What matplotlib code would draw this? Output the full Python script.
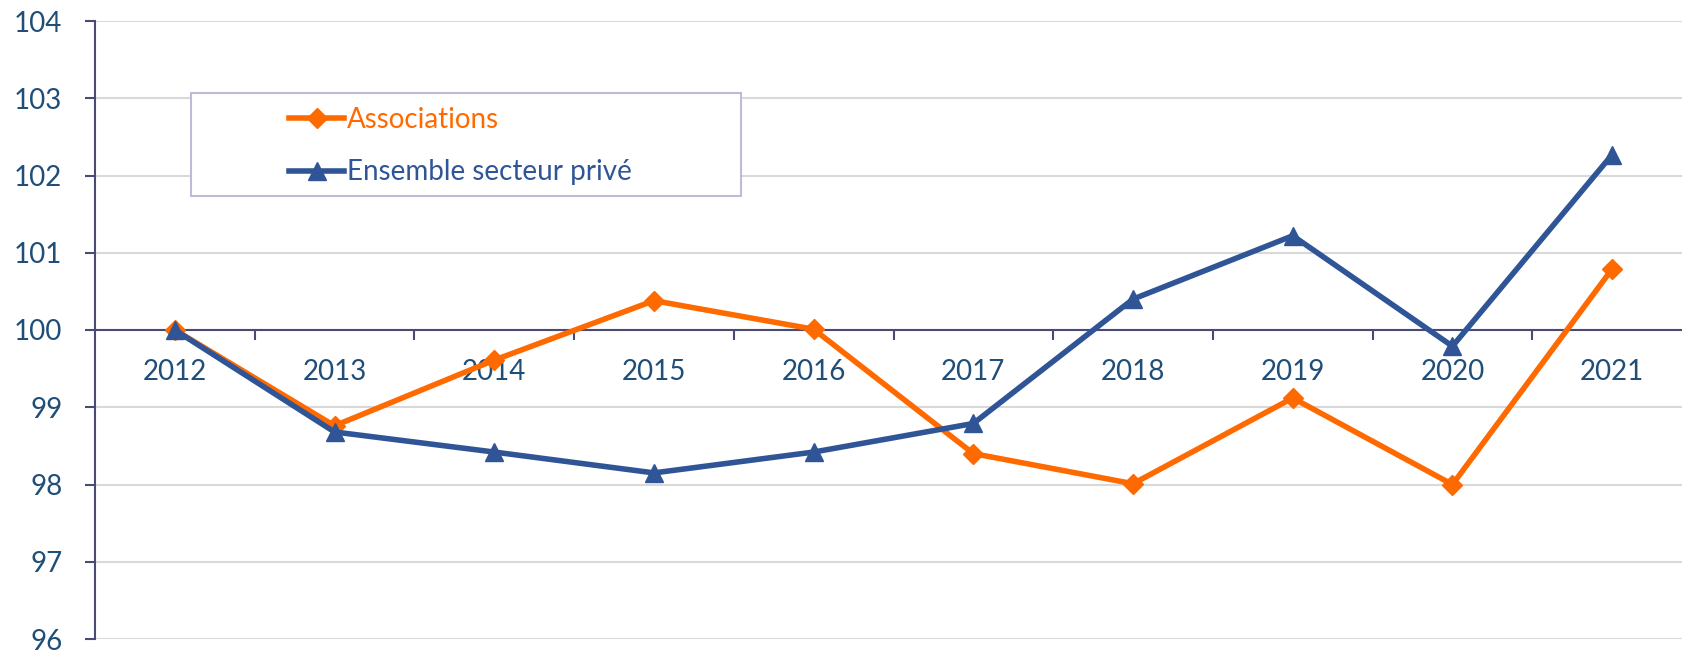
import matplotlib
matplotlib.use("Agg")
import matplotlib.pyplot as plt
from matplotlib.patches import Rectangle
from matplotlib.ticker import FixedLocator, NullFormatter

years = ["2012", "2013", "2014", "2015", "2016", "2017", "2018", "2019", "2020", "2021"]
associations = [100.0, 98.76, 99.61, 100.38, 100.01, 98.40, 98.01, 99.12, 98.00, 100.79]
ensemble = [100.0, 98.68, 98.42, 98.15, 98.42, 98.79, 100.40, 101.22, 99.79, 102.27]
yticks = [96, 97, 98, 99, 100, 101, 102, 103, 104]

ORANGE = "#FF6A00"
BLUE = "#2F5597"
TXT = "#1F4E79"
AXC = "#4A4A72"

plt.rcParams["font.family"] = ["Lato", "DejaVu Sans"]

fig = plt.figure(figsize=(16.83, 6.5), dpi=100)
ax = fig.add_axes([95 / 1683, 11 / 650, 1597 / 1683, 618 / 650])

x = list(range(len(years)))
ax.plot(x, associations, color=ORANGE, lw=4.0, marker="D", ms=10,
        label="Associations", zorder=3)
ax.plot(x, ensemble, color=BLUE, lw=4.0, marker="^", ms=13,
        label="Ensemble secteur privé", zorder=4)

ax.set_xlim(-0.5, len(years) - 0.5)
ax.set_ylim(96, 104)
ax.set_yticks(yticks)
ax.set_yticklabels([str(v) for v in yticks])
ax.grid(axis="y", color="#D9D9D9", lw=1.5, zorder=0)
ax.set_axisbelow(True)

for s in ["top", "right"]:
    ax.spines[s].set_visible(False)
ax.spines["left"].set_color(AXC)
ax.spines["left"].set_linewidth(1.5)
ax.spines["bottom"].set_position(("data", 100))
ax.spines["bottom"].set_color(AXC)
ax.spines["bottom"].set_linewidth(1.5)

ax.xaxis.set_major_locator(FixedLocator([i + 0.5 for i in range(len(years))]))
ax.xaxis.set_major_formatter(NullFormatter())
ax.xaxis.set_minor_locator(FixedLocator(x))
ax.set_xticklabels(years, minor=True)
ax.tick_params(axis="x", which="major", direction="out", length=7.5, width=1.5, color=AXC)
ax.tick_params(axis="x", which="minor", length=0, pad=21, labelsize=20, labelcolor=TXT)
ax.tick_params(axis="y", direction="out", length=7.5, width=1.5, color=AXC,
               pad=16, labelsize=20, labelcolor=TXT)

# legend box
fig.patches.append(Rectangle((191 / 1683, 1 - 196 / 650), 550 / 1683, 103 / 650,
                             transform=fig.transFigure, facecolor="white",
                             edgecolor="#BCBCD8", lw=1.5, zorder=5))
leg = fig.legend(loc="upper left", bbox_to_anchor=(275 / 1683, 1 - 93 / 650),
                 frameon=False, fontsize=20, handlelength=2.0, handletextpad=0.1,
                 labelspacing=0.95, borderpad=0)
leg.set_zorder(6)
for t, c in zip(leg.get_texts(), [ORANGE, BLUE]):
    t.set_color(c)

fig.savefig("out.png", dpi=100)
